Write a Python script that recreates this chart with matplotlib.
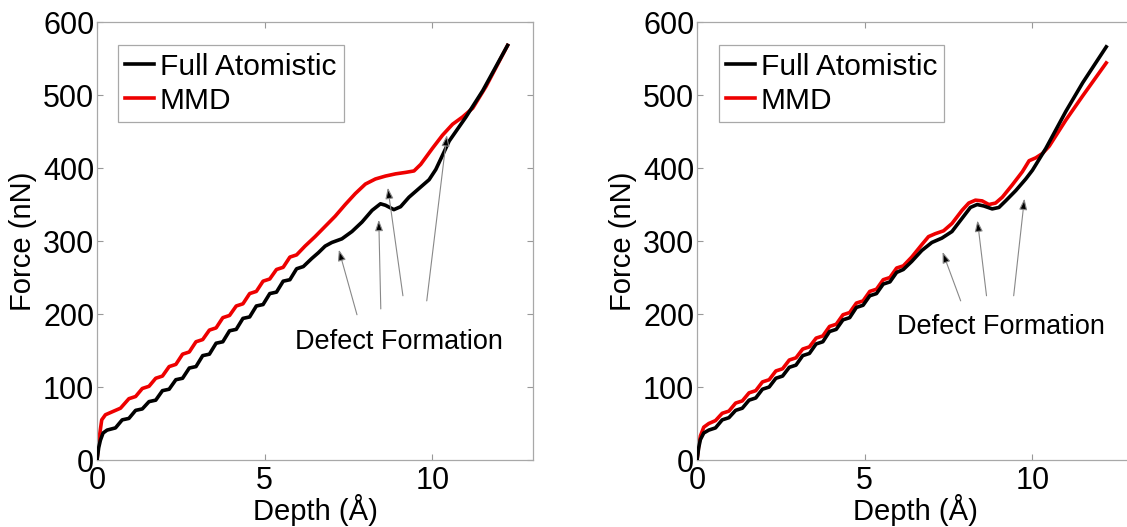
import matplotlib
matplotlib.use("Agg")
import matplotlib.pyplot as plt

plt.rcParams['font.family'] = ['Liberation Sans', 'DejaVu Sans']

# left panel, depth (A) and force (nN)
left_fa_x = [0, 0.05, 0.1, 0.18, 0.3, 0.55, 0.75, 0.95, 1.15, 1.35, 1.55, 1.75, 1.95, 2.15,
             2.35, 2.55, 2.75, 2.95, 3.15, 3.35, 3.55, 3.75, 3.95, 4.15, 4.35, 4.55, 4.75,
             4.95, 5.15, 5.35, 5.55, 5.75, 5.95, 6.15, 6.4, 6.6, 6.8, 7.0, 7.3, 7.6, 7.9,
             8.2, 8.45, 8.6, 8.85, 9.05, 9.3, 9.6, 9.9, 10.1, 10.5, 11.0, 11.5, 12.24]
left_fa_y = [0, 17, 27, 37, 41, 44, 55, 57, 68, 70, 80, 82, 95, 97,
             110, 112, 126, 128, 143, 145, 160, 162, 177, 179, 194, 196, 211,
             213, 228, 230, 245, 247, 262, 265, 276, 284, 293, 298, 303, 313, 326,
             342, 351, 349, 343, 347, 360, 372, 384, 398, 437, 470, 506, 568]
left_mmd_x = [0, 0.05, 0.1, 0.14, 0.25, 0.5, 0.7, 0.95, 1.15, 1.35, 1.55, 1.75, 1.95, 2.15,
              2.35, 2.55, 2.75, 2.95, 3.15, 3.35, 3.55, 3.75, 3.95, 4.15, 4.35, 4.55, 4.75,
              4.95, 5.15, 5.35, 5.55, 5.75, 5.95, 6.2, 6.5, 6.8, 7.1, 7.4, 7.7, 8.0, 8.3,
              8.6, 8.9, 9.2, 9.45, 9.65, 10.0, 10.3, 10.6, 10.9, 11.2, 11.6, 12.24]
left_mmd_y = [0, 25, 42, 55, 62, 67, 71, 84, 87, 98, 101, 112, 115, 128,
              131, 145, 148, 162, 165, 178, 181, 195, 198, 211, 214, 228, 231,
              245, 248, 261, 264, 278, 281, 293, 306, 320, 334, 350, 365, 378, 385,
              389, 392, 394, 396, 405, 427, 445, 460, 470, 482, 512, 568]

# right panel
right_fa_x = [0, 0.05, 0.1, 0.2, 0.35, 0.55, 0.75, 0.95, 1.15, 1.35, 1.55, 1.75, 1.95, 2.15,
              2.35, 2.55, 2.75, 2.95, 3.15, 3.35, 3.55, 3.75, 3.95, 4.15, 4.35, 4.55, 4.75,
              4.95, 5.15, 5.35, 5.55, 5.75, 5.95, 6.15, 6.4, 6.7, 7.0, 7.3, 7.6, 7.9, 8.15,
              8.35, 8.55, 8.8, 9.0, 9.2, 9.5, 9.8, 10.0, 10.4, 11.0, 11.5, 12.2]
right_fa_y = [0, 17, 28, 37, 41, 44, 55, 58, 68, 71, 82, 85, 97, 100,
              112, 115, 127, 130, 143, 146, 159, 162, 176, 179, 192, 195, 209,
              212, 225, 228, 241, 244, 257, 261, 272, 287, 298, 304, 313, 331, 346,
              350, 348, 344, 346, 355, 369, 385, 397, 427, 478, 517, 566]
right_mmd_x = [0, 0.05, 0.1, 0.2, 0.35, 0.55, 0.75, 0.95, 1.15, 1.35, 1.55, 1.75, 1.95, 2.15,
               2.35, 2.55, 2.75, 2.95, 3.15, 3.35, 3.55, 3.75, 3.95, 4.15, 4.35, 4.55, 4.75,
               4.95, 5.15, 5.35, 5.55, 5.75, 5.95, 6.15, 6.4, 6.7, 6.9, 7.1, 7.35, 7.6, 7.9,
               8.1, 8.3, 8.5, 8.7, 8.9, 9.1, 9.4, 9.7, 9.9, 10.1, 10.3, 10.5, 11.0, 11.5, 12.2]
right_mmd_y = [0, 20, 33, 45, 50, 54, 64, 67, 78, 81, 92, 95, 107, 110,
               122, 125, 137, 140, 152, 155, 167, 170, 183, 186, 199, 202, 215,
               218, 231, 234, 247, 250, 263, 266, 278, 295, 306, 310, 314, 324, 342,
               352, 356, 355, 350, 352, 360, 377, 395, 410, 414, 420, 430, 466, 499, 544]

# arrows: (tail x, tail y, head x, head y)
left_arrows = [(7.75, 199, 7.21, 288), (8.46, 207, 8.40, 329),
               (9.12, 225, 8.67, 373), (9.83, 218, 10.43, 445)]
right_arrows = [(7.86, 218, 7.32, 285), (8.63, 225, 8.36, 328),
                (9.44, 225, 9.76, 358)]

fig = plt.figure(figsize=(11.27, 5.27), dpi=100)
ax1 = fig.add_axes([0.0861, 0.1271, 0.3869, 0.8311])
ax2 = fig.add_axes([0.6185, 0.1271, 0.3869, 0.8311])

panels = [(ax1, left_fa_x, left_fa_y, left_mmd_x, left_mmd_y, left_arrows, (9.0, 162), 0.048),
          (ax2, right_fa_x, right_fa_y, right_mmd_x, right_mmd_y, right_arrows, (9.06, 182), 0.05)]

for ax, fx, fy, mx, my, arrows, txt, lx in panels:
    ax.plot(fx, fy, color='black', lw=2.6, label='Full Atomistic', zorder=3)
    ax.plot(mx, my, color='#ee0000', lw=2.6, label='MMD', zorder=2)
    ax.set_xlim(0, 13)
    ax.set_ylim(0, 600)
    ax.set_xticks([0, 5, 10])
    ax.set_yticks(range(0, 601, 100))
    ax.tick_params(direction='in', length=4, width=0.8, color='#999999',
                   top=True, right=True, labelsize=22, pad=4)
    ax.tick_params(axis='y', pad=2)
    for s in ax.spines.values():
        s.set_color('#a8a8a8')
        s.set_linewidth(0.9)
    ax.set_xlabel('Depth (Å)', fontsize=21, labelpad=-1)
    ax.set_ylabel('Force (nN)', fontsize=21, labelpad=4)
    leg = ax.legend(loc='upper left', bbox_to_anchor=(lx, 0.947), borderaxespad=0,
                    fontsize=21.5, handlelength=0.95, handletextpad=0.2, labelspacing=0.2,
                    borderpad=0.25, fancybox=False, framealpha=1)
    leg.get_frame().set_edgecolor('#a8a8a8')
    leg.get_frame().set_linewidth(0.9)
    for tx, ty, hx, hy in arrows:
        ax.annotate('', xy=(hx, hy), xytext=(tx, ty),
                    arrowprops=dict(arrowstyle='-|>,head_length=0.55,head_width=0.2',
                                    edgecolor='#888888', facecolor='black', lw=0.8,
                                    shrinkA=0, shrinkB=0, mutation_scale=12))
    ax.text(txt[0], txt[1], 'Defect Formation', fontsize=19.5, ha='center', va='center')

plt.savefig('out.png', dpi=100)
